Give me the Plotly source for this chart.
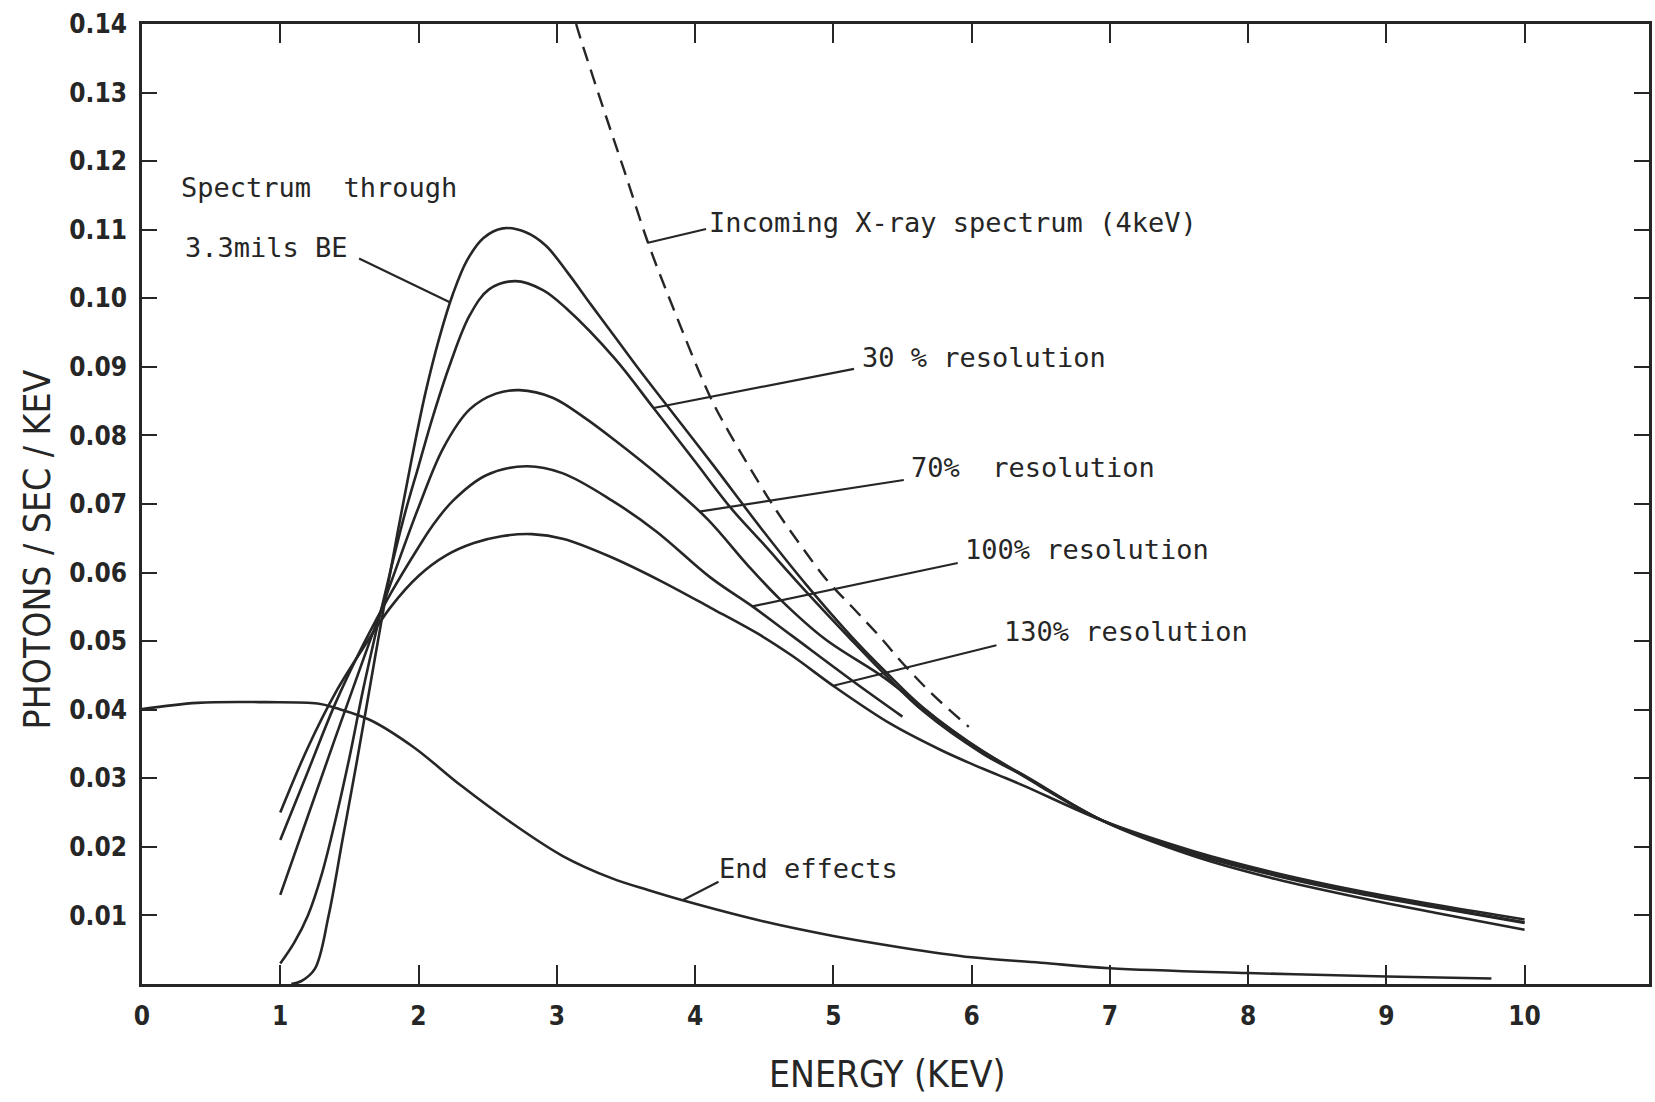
import numpy as np
import plotly.graph_objects as go

# ---- spectra (energy in keV, photons / sec / keV) ----
# spectrum through 3.3 mils Be
be_x = [1.08, 1.15, 1.25, 1.35, 1.45, 1.55, 1.65, 1.75, 1.85, 1.95, 2.05, 2.15, 2.25, 2.35, 2.47,
        2.61, 2.78, 2.92, 3.08, 3.25, 3.42, 3.60, 3.78, 4.13, 4.48, 4.81, 5.13, 5.38, 5.65, 6.10,
        6.40, 6.95, 7.60, 8.20, 8.80, 9.40, 10.0]
be_y = [0.0, 0.0004, 0.0022, 0.010, 0.021, 0.032, 0.0435, 0.055, 0.066, 0.0765, 0.0862, 0.0942,
        0.1007, 0.1055, 0.1088, 0.1102, 0.1096, 0.1077, 0.1037, 0.0990, 0.0944, 0.0895, 0.0848,
        0.0757, 0.0664, 0.0581, 0.0507, 0.0455, 0.0403, 0.0337, 0.0302, 0.0238, 0.0187, 0.0153,
        0.0126, 0.0102, 0.0079]

# 30 % resolution
r30_x = [1.0, 1.1, 1.2, 1.3, 1.4, 1.5, 1.6, 1.7, 1.8, 1.9, 2.0, 2.1, 2.23, 2.37, 2.51, 2.70, 2.90,
         3.07, 3.42, 3.70, 4.00, 4.26, 4.48, 4.80, 5.13, 5.38, 5.65, 6.08, 6.40, 6.95, 7.60, 8.20,
         8.80, 9.40, 10.0]
r30_y = [0.003, 0.006, 0.010, 0.016, 0.024, 0.033, 0.043, 0.052, 0.0605, 0.0685, 0.0755, 0.0825,
         0.0905, 0.0975, 0.1013, 0.1025, 0.1012, 0.0985, 0.0912, 0.0840, 0.0762, 0.0694, 0.0645,
         0.0573, 0.0502, 0.0450, 0.0398, 0.0336, 0.0301, 0.0238, 0.0190, 0.0158, 0.0132, 0.0110,
         0.0089]

# 70 % resolution
r70_x = [1.0, 1.2, 1.4, 1.6, 1.8, 2.0, 2.18, 2.37, 2.56, 2.73, 2.97, 3.20, 3.42, 3.76, 4.09, 4.38,
         4.61, 4.94, 5.38, 5.77, 6.00, 6.20, 6.50, 6.95, 7.60, 8.20, 8.80, 9.40, 10.0]
r70_y = [0.013, 0.0245, 0.036, 0.0473, 0.0585, 0.0695, 0.0782, 0.0838, 0.0861, 0.0866, 0.0855,
         0.0826, 0.0793, 0.0738, 0.0678, 0.0611, 0.0562, 0.0503, 0.0445, 0.0383, 0.0350, 0.0325,
         0.0288, 0.0238, 0.0191, 0.0159, 0.0133, 0.0111, 0.0090]

# 100 % resolution
r100_x = [1.0, 1.2, 1.4, 1.6, 1.8, 2.0, 2.1, 2.25, 2.49, 2.78, 3.04, 3.40, 3.72, 4.11, 4.42, 4.70,
          5.16, 5.50]
r100_y = [0.021, 0.031, 0.041, 0.0495, 0.057, 0.0637, 0.0668, 0.0705, 0.0742, 0.0755, 0.0745,
          0.0705, 0.0660, 0.0593, 0.0550, 0.0508, 0.0439, 0.0390]

# 130 % resolution
r130_x = [1.0, 1.2, 1.4, 1.6, 1.8, 2.0, 2.2, 2.4, 2.6, 2.82, 3.05, 3.40, 3.75, 4.11, 4.47, 4.70,
          5.02, 5.41, 5.77, 6.00, 6.19, 6.38, 6.95, 7.60, 8.20, 8.80, 9.40, 10.0]
r130_y = [0.025, 0.0345, 0.0425, 0.049, 0.0550, 0.0595, 0.0625, 0.0643, 0.0653, 0.0656, 0.0649,
          0.0622, 0.0588, 0.0549, 0.0509, 0.0479, 0.0432, 0.0380, 0.0342, 0.0321, 0.0305, 0.0289,
          0.0238, 0.0194, 0.0162, 0.0136, 0.0114, 0.0094]

# incoming X-ray spectrum (4 keV)
inc_x = [3.14, 3.17, 3.34, 3.49, 3.66, 3.83, 4.11, 4.25, 4.39, 4.58, 4.76, 4.95, 5.14, 5.33, 5.51,
         5.72, 5.98]
inc_y = [0.1400, 0.1380, 0.1275, 0.1185, 0.1081, 0.0992, 0.0856, 0.0803, 0.0755, 0.0693, 0.0641,
         0.0590, 0.0549, 0.0508, 0.0466, 0.0422, 0.0375]

# end effects
end_x = [0.0, 0.4, 0.9, 1.27, 1.41, 1.65, 1.96, 2.31, 2.68, 3.04, 3.40, 3.66, 3.91, 4.50, 5.00,
         5.50, 6.00, 6.50, 7.00, 8.00, 9.00, 9.76]
end_y = [0.0401, 0.0410, 0.0411, 0.0409, 0.0402, 0.0385, 0.0346, 0.0289, 0.0234, 0.0187, 0.0154,
         0.0137, 0.0122, 0.0091, 0.0070, 0.0053, 0.0039, 0.0031, 0.0023, 0.0016, 0.0011, 0.0008]

# axis ticks
x_ticks = list(range(0, 11))
y_ticks = [round(0.01 * k, 2) for k in range(1, 15)]
y_ticklabels = ["%.2f" % v for v in y_ticks]

INK = "#262626"
TICK_FONT = dict(family="Liberation Sans Narrow, DejaVu Sans Condensed, sans-serif",
                 size=26, color=INK, weight="bold")
LABEL_FONT = dict(family="DejaVu Sans Mono, monospace", size=27, color=INK)
TITLE_FONT = dict(family="Liberation Sans Narrow, DejaVu Sans Condensed, sans-serif",
                  size=37, color=INK)

fig = go.Figure()


def add_curve(x, y, dash=None, width=2.6):
    fig.add_trace(go.Scatter(
        x=x, y=y, mode="lines",
        line=dict(color=INK, width=width, shape="spline", smoothing=1.0, dash=dash),
        hoverinfo="skip", showlegend=False))


add_curve(be_x, be_y)
add_curve(r30_x, r30_y)
add_curve(r70_x, r70_y)
add_curve(r100_x, r100_y)
add_curve(r130_x, r130_y)
add_curve(end_x, end_y)
add_curve(inc_x, inc_y, dash="15px,9px", width=2.4)

# ---- labels with leader lines ending on their curve ----
labels = [
    # text, text-left x, text y, leader start (x, y), curve, x on curve
    ("3.3mils BE", 0.30, 0.1074, (1.57, 0.1058), (be_x, be_y), 2.23),
    ("Incoming X-ray spectrum (4keV)", 4.09, 0.1111, (4.08, 0.1101), (inc_x, inc_y), 3.66),
    ("30 % resolution", 5.19, 0.0913, (5.15, 0.0897), (r30_x, r30_y), 3.70),
    ("70%\u00a0 resolution", 5.55, 0.0753, (5.51, 0.0735), (r70_x, r70_y), 4.03),
    ("100% resolution", 5.94, 0.0633, (5.90, 0.0614), (r100_x, r100_y), 4.415),
    ("130% resolution", 6.22, 0.0514, (6.18, 0.0494), (r130_x, r130_y), 5.00),
    ("End effects", 4.16, 0.0169, (4.17, 0.0149), (end_x, end_y), 3.91),
]

annotations = [dict(text="Spectrum\u00a0 through", x=0.27, y=0.1162, xref="x", yref="y",
                    xanchor="left", yanchor="middle", showarrow=False, font=LABEL_FONT)]
shapes = []
for text, tx, ty, (sx, sy), (cx, cy), ex in labels:
    annotations.append(dict(text=text, x=tx, y=ty, xref="x", yref="y", xanchor="left",
                            yanchor="middle", showarrow=False, font=LABEL_FONT))
    ey = float(np.interp(ex, cx, cy))
    shapes.append(dict(type="line", xref="x", yref="y", x0=sx, y0=sy, x1=ex, y1=ey,
                       line=dict(color=INK, width=2.2)))

# axis titles
annotations.append(dict(text="PHOTONS / SEC / KEV", x=-0.0695, y=0.453, xref="paper", yref="paper",
                        textangle=-90, showarrow=False, font=TITLE_FONT,
                        xanchor="center", yanchor="middle"))
annotations.append(dict(text="ENERGY (KEV)", x=0.495, y=-0.094, xref="paper", yref="paper",
                        showarrow=False, font=TITLE_FONT, xanchor="center", yanchor="middle"))

axis_common = dict(showgrid=False, zeroline=False, showline=True, linecolor=INK, linewidth=2.6,
                   mirror="ticks", ticks="inside", tickcolor=INK, tickwidth=2.2,
                   tickfont=TICK_FONT)

fig.update_layout(
    width=1655, height=1102,
    margin=dict(l=142, r=3, t=24, b=118),
    paper_bgcolor="white", plot_bgcolor="white",
    xaxis=dict(range=[0, 10.9], tickmode="array", tickvals=x_ticks,
               ticktext=[str(v) for v in x_ticks], ticklen=19, ticklabelstandoff=7,
               **axis_common),
    yaxis=dict(range=[0, 0.14], tickmode="array", tickvals=y_ticks, ticktext=y_ticklabels,
               ticklen=15, ticklabelstandoff=7, **axis_common),
    annotations=annotations,
    shapes=shapes,
)

fig.write_html("out.html")
